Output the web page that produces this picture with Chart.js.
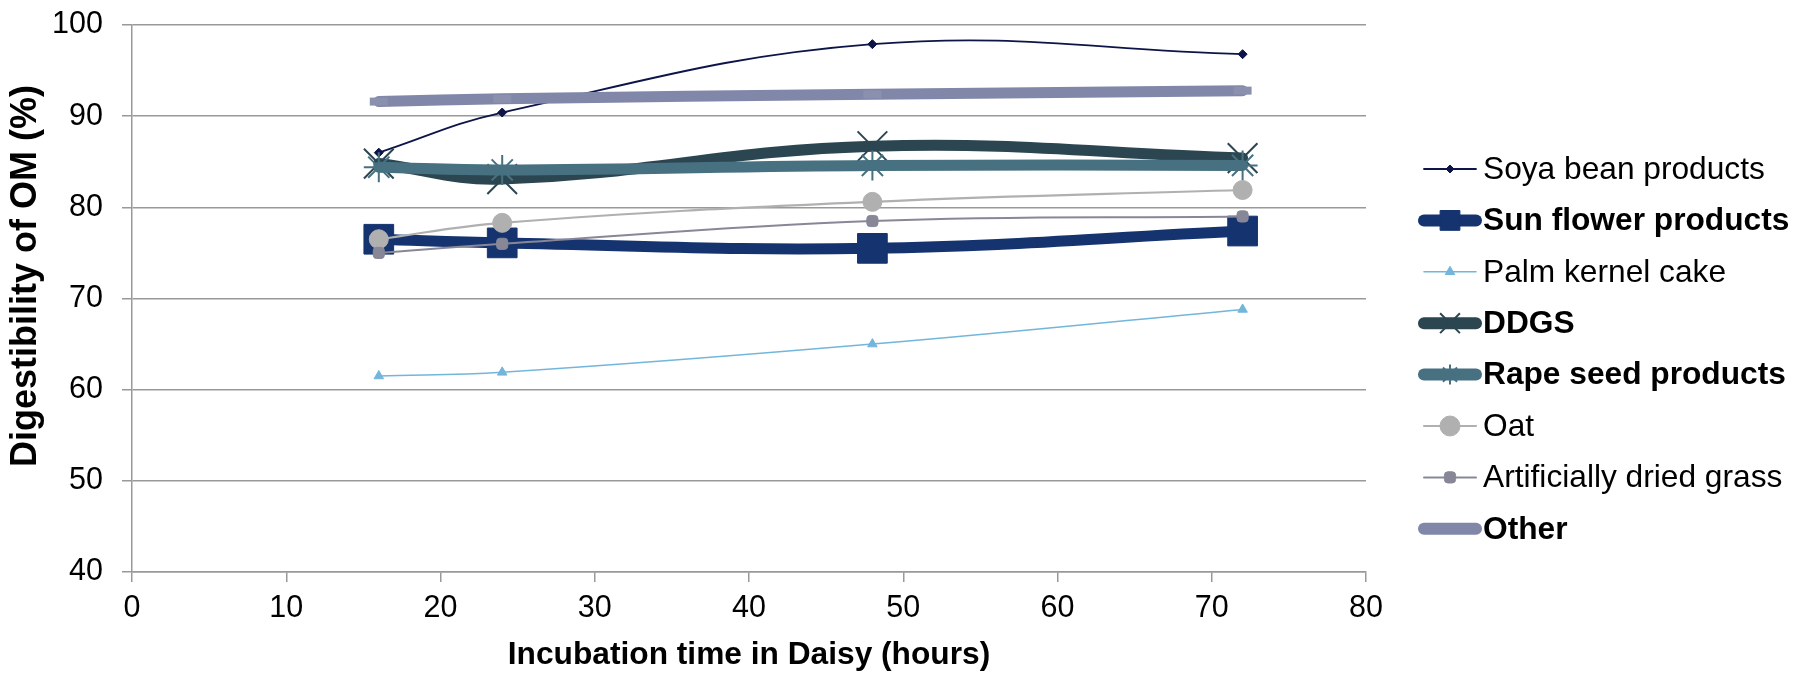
<!DOCTYPE html>
<html>
<head>
<meta charset="utf-8">
<script src="https://cdn.jsdelivr.net/npm/chart.js@4/dist/chart.umd.min.js"></script>
<style>
html,body{margin:0;padding:0;background:#fff;}
#c{display:block;}
</style>
</head>
<body>
<canvas id="c" width="1794" height="673"></canvas>
<script>
// ---- data ----
const hours = [16, 24, 48, 72];
const seriesNames = ["Soya bean products", "Sun flower products", "Palm kernel cake", "DDGS", "Rape seed products", "Oat", "Artificially dried grass", "Other"];
const soya = [86.0, 90.4, 97.9, 96.8];
const sunflower = [76.5, 76.1, 75.5, 77.4];
const palmKernel = [61.5, 61.9, 65.0, 68.8];
const ddgs = [84.8, 83.1, 86.7, 85.4];
const rapeSeed = [84.4, 84.1, 84.6, 84.6];
const oat = [76.5, 78.3, 80.6, 81.9];
const driedGrass = [75.0, 76.0, 78.5, 79.0];
const other = [91.6, 91.9, 92.4, 92.8];
const xTicks = [0, 10, 20, 30, 40, 50, 60, 70, 80];
const yTicks = [40, 50, 60, 70, 80, 90, 100];

const FONT = "'Liberation Sans', Arial, Helvetica, sans-serif";
const allValues = [soya, sunflower, palmKernel, ddgs, rapeSeed, oat, driedGrass, other];

const styles = [
  {color:'#0d1548', width:1.8, point:'rectRot', r:4.5, pr:4, pbw:1, bold:false},
  {color:'#15346f', width:11, point:'rect', r:21, pr:14, pbw:1, bold:true},
  {color:'#73b6db', width:1.5, point:'triangle', r:5.5, pr:5.5, pbw:1, bold:false},
  {color:'#2b4651', width:11, point:'crossRot', r:21, pr:14, pbw:2, bold:true},
  {color:'#477181', width:11, point:'star', r:15, pr:10, pbw:2, bold:true},
  {color:'#b0b0b0', width:2.2, point:'circle', r:9.5, pr:10, pbw:1, bold:false},
  {color:'#878797', width:2, point:'rectRounded', r:6.5, pr:6.5, pbw:1, bold:false},
  {color:'#8187a8', width:11, point:'line', r:9, pr:0, pbw:8, bold:true, pointColor:'#8a90ae'}
];

const datasets = seriesNames.map((name, i) => {
  const s = styles[i];
  return {
    label: name,
    data: hours.map((h, k) => ({x: h, y: allValues[i][k]})),
    borderColor: s.color,
    backgroundColor: s.pointColor || s.color,
    borderWidth: s.width,
    borderCapStyle: 'round',
    borderJoinStyle: 'round',
    tension: 0.4,
    pointStyle: s.point,
    pointRadius: s.r,
    pointHoverRadius: s.r,
    pointBorderWidth: s.pbw,
    pointBorderColor: s.pointColor || s.color,
    pointBackgroundColor: s.pointColor || s.color,
    order: seriesNames.length - i,
    clip: false
  };
});

const legendPlugin = {
  id: 'customLegend',
  afterDraw(chart) {
    const ctx = chart.ctx;
    const x0 = 1424, x1 = 1476, xm = 1450, tx = 1483;
    ctx.save();
    chart.data.datasets.forEach((ds, i) => {
      const s = styles[i];
      const y = 169 + i * 51.4;
      ctx.strokeStyle = s.color;
      ctx.lineWidth = s.width > 5 ? 12 : s.width;
      ctx.lineCap = 'round';
      ctx.beginPath();
      ctx.moveTo(x0, y);
      ctx.lineTo(x1, y);
      ctx.stroke();
      if (s.pr > 0) {
        ctx.fillStyle = s.color;
        ctx.strokeStyle = s.color;
        ctx.lineWidth = s.pbw;
        ctx.lineCap = 'butt';
        Chart.helpers.drawPoint(ctx, {pointStyle: s.point, radius: s.pr, rotation: 0, borderWidth: s.pbw}, xm, y);
      }
      ctx.fillStyle = '#000';
      ctx.textAlign = 'left';
      ctx.textBaseline = 'middle';
      ctx.font = (s.bold ? 'bold ' : '') + '31.7px ' + FONT;
      ctx.fillText(ds.label, tx, y + 1);
    });
    ctx.restore();
  }
};

const yTitlePlugin = {
  id: 'yTitle',
  afterDraw(chart) {
    const ctx = chart.ctx;
    ctx.save();
    ctx.translate(26, 276);
    ctx.rotate(-Math.PI / 2);
    ctx.fillStyle = '#000';
    ctx.textAlign = 'center';
    ctx.textBaseline = 'middle';
    ctx.font = 'bold 36px ' + FONT;
    ctx.fillText('Digestibility of OM (%)', 0, 0);
    ctx.restore();
  }
};

new Chart(document.getElementById('c'), {
  type: 'line',
  data: {datasets},
  options: {
    responsive: false,
    animation: false,
    events: [],
    layout: {padding: {top: 25, right: 428, left: 0, bottom: 0}},
    plugins: {legend: {display: false}, tooltip: {enabled: false}},
    scales: {
      x: {
        type: 'linear',
        min: xTicks[0], max: xTicks[xTicks.length - 1],
        afterBuildTicks: (sc) => { sc.ticks = xTicks.map(v => ({value: v})); },
        afterFit: (sc) => { sc.height = 101; sc.paddingLeft = 0; sc.paddingRight = 0; },
        grid: {drawOnChartArea: false, drawTicks: true, tickLength: 10, color: '#999999', lineWidth: 1.5},
        border: {display: true, color: '#999999', width: 1.5},
        ticks: {color: '#000', font: {family: FONT, size: 30.5}, padding: 8, maxRotation: 0},
        title: {display: true, text: 'Incubation time in Daisy (hours)', color: '#000',
                font: {family: FONT, size: 31.7, weight: 'bold', lineHeight: 1}, padding: {top: 0, bottom: 2}}
      },
      y: {
        type: 'linear',
        min: yTicks[0], max: yTicks[yTicks.length - 1],
        afterBuildTicks: (sc) => { sc.ticks = yTicks.map(v => ({value: v})); },
        afterFit: (sc) => { sc.width = 132; sc.paddingTop = 0; sc.paddingBottom = 0; },
        grid: {drawTicks: true, tickLength: 10, color: '#999999', lineWidth: 1.5},
        border: {display: true, color: '#999999', width: 1.5},
        ticks: {color: '#000', font: {family: FONT, size: 30.5}, padding: 19}
      }
    }
  },
  plugins: [legendPlugin, yTitlePlugin]
});
</script>
</body>
</html>
